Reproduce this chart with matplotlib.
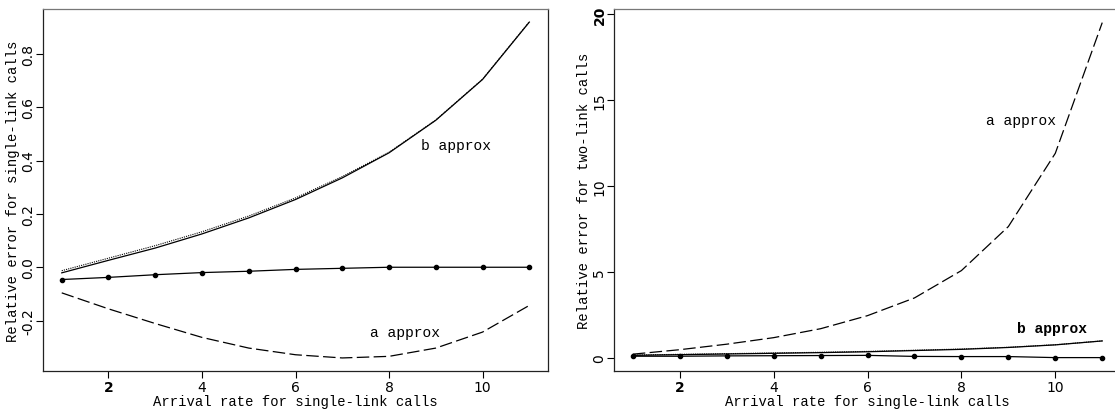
import matplotlib.pyplot as plt

# arrival rate for single-link calls
rate = [1, 2, 3, 4, 5, 6, 7, 8, 9, 10, 11]

# left panel: relative error for single-link calls
single_b = [-0.021, 0.026, 0.072, 0.125, 0.185, 0.254, 0.335, 0.429, 0.551, 0.704, 0.919]
single_dot = [-0.013, 0.034, 0.081, 0.133, 0.192, 0.260, 0.340, 0.431, 0.552, 0.705, 0.920]
single_pts = [-0.046, -0.038, -0.028, -0.020, -0.015, -0.008, -0.004, 0.0, 0.0, 0.0, 0.0]
single_a = [-0.096, -0.156, -0.211, -0.263, -0.303, -0.328, -0.340, -0.334, -0.303, -0.243, -0.143]

# right panel: relative error for two-link calls
two_a = [0.22, 0.48, 0.80, 1.18, 1.70, 2.46, 3.49, 5.08, 7.64, 11.9, 19.5]
two_b = [0.15, 0.19, 0.23, 0.27, 0.31, 0.36, 0.43, 0.50, 0.61, 0.76, 0.99]
two_dot = [0.17, 0.21, 0.25, 0.29, 0.33, 0.38, 0.45, 0.52, 0.62, 0.77, 0.99]
two_pts = [0.10, 0.10, 0.12, 0.13, 0.14, 0.15, 0.09, 0.08, 0.08, 0.02, 0.02]

lab_font = dict(family='Liberation Mono', size=10)
note_font = dict(family='Liberation Mono', size=10.5)
dash = (0, (10, 3.5))


def style_axes(ax, yticks, yticklabels, ylabel):
    ax.set_xlim(0.6, 11.4)
    ax.set_xticks([2, 4, 6, 8, 10])
    ax.set_yticks(yticks)
    ax.set_yticklabels(yticklabels, rotation=90, va='center')
    ax.tick_params(direction='out', length=5, width=0.8, labelsize=10)
    ax.tick_params(axis='x', pad=1.5)
    ax.tick_params(axis='y', pad=0.5)
    ax.get_xticklabels()[0].set_fontweight('bold')
    ax.set_xlabel('Arrival rate for single-link calls', **lab_font)
    ax.xaxis.set_label_coords(0.5, -0.063)
    ax.set_ylabel(ylabel, **lab_font)
    ax.yaxis.set_label_coords(-0.046, 0.5)
    for s in ax.spines.values():
        s.set_linewidth(0.9)
        s.set_color('#222222')
    ax.spines['top'].set_color('#777777')


fig = plt.figure(figsize=(11.15, 4.14), dpi=100)

ax1 = fig.add_axes([0.0386, 0.1014, 0.4529, 0.8744])
ax1.plot(rate, single_dot, color='black', lw=0.8, ls=(0, (1, 1)))
ax1.plot(rate, single_b, color='black', lw=0.9)
ax1.plot(rate, single_pts, color='black', lw=0.9, marker='o', ms=3)
ax1.plot(rate, single_a, color='black', lw=0.9, ls=dash)
ax1.set_ylim(-0.389, 0.968)
style_axes(ax1, [-0.2, 0.0, 0.2, 0.4, 0.6, 0.8],
           ['-0.2', '0.0', '0.2', '0.4', '0.6', '0.8'],
           'Relative error for single-link calls')
ax1.text(9.43, 0.457, 'b approx', ha='center', va='center', **note_font)
ax1.text(8.34, -0.243, 'a approx', ha='center', va='center', **note_font)

ax2 = fig.add_axes([0.5507, 0.1014, 0.4547, 0.8744])
ax2.plot(rate, two_dot, color='black', lw=0.8, ls=(0, (1, 1)))
ax2.plot(rate, two_b, color='black', lw=0.9)
ax2.plot(rate, two_pts, color='black', lw=0.9, marker='o', ms=3)
ax2.plot(rate, two_a, color='black', lw=0.9, ls=dash)
ax2.set_ylim(-0.76, 20.29)
style_axes(ax2, [0, 5, 10, 15, 20], ['0', '5', '10', '15', '20'],
           'Relative error for two-link calls')
ax2.get_yticklabels()[-1].set_fontweight('bold')
ax2.text(9.26, 13.86, 'a approx', ha='center', va='center', **note_font)
ax2.text(9.94, 1.72, 'b approx', ha='center', va='center', fontweight='bold', **note_font)

fig.savefig('out.png', dpi=100)
